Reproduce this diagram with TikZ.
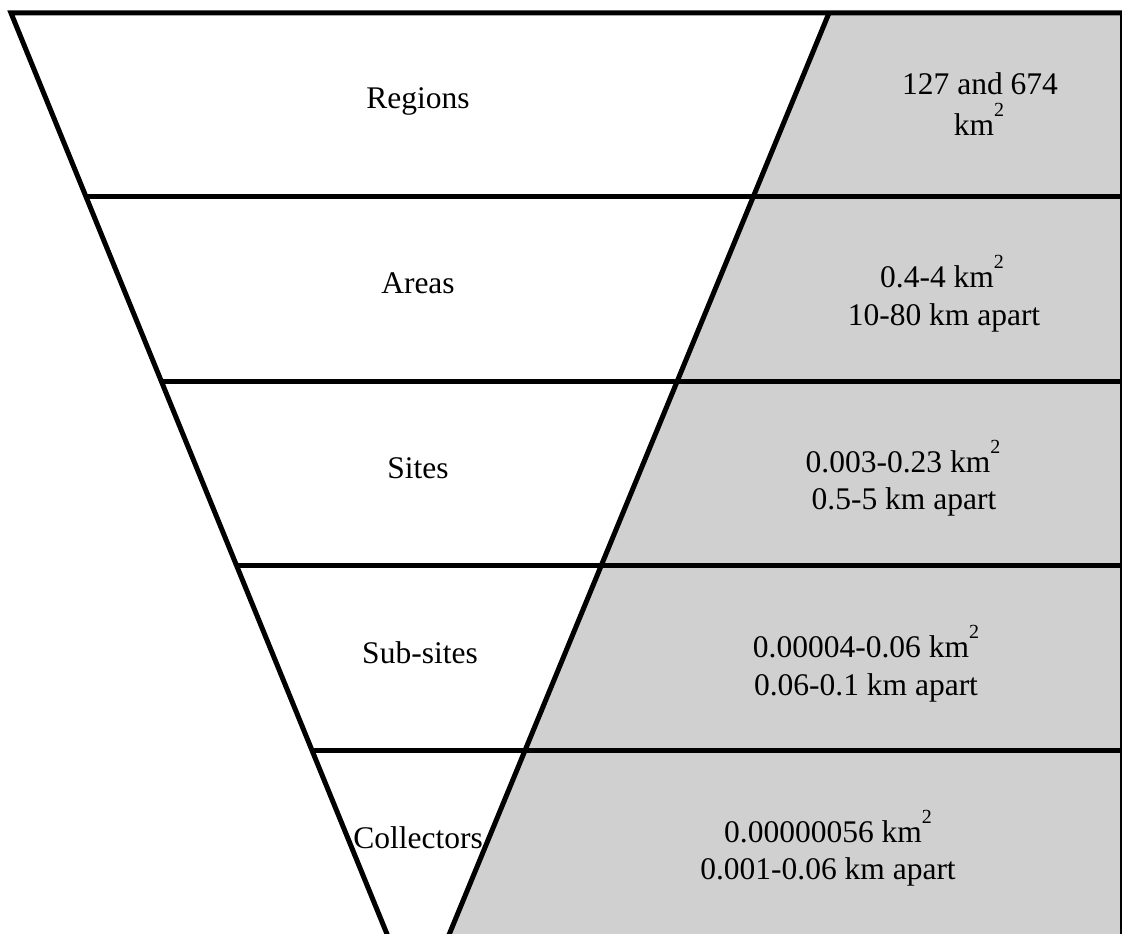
\documentclass[tikz,border=0pt]{standalone}
\usepackage{fontspec}
\setmainfont{Liberation Serif}
\usetikzlibrary{calc}
\definecolor{grayfill}{RGB}{208,208,208}
\newcommand\kmsq{km\raisebox{19pt}{\fontsize{20}{20}\selectfont 2}}
\begin{document}
\begin{tikzpicture}[x=1pt,y=-1pt,
  edge/.style={line width=5pt, line join=miter, line cap=butt},
  lbl/.style={font=\fontsize{31.5}{36}\selectfont, inner sep=0pt, anchor=base},
  ]
\useasboundingbox (0,0) rectangle (1122,934);
\begin{scope}
\clip (0,0) rectangle (1122,934);
\coordinate (TL) at (11,13);
\coordinate (TR) at (829,13);
\coordinate (AP) at (418,1010);
\coordinate (RT) at (1122,13);
\coordinate (RB) at (1122,1010);
\fill[grayfill] (TR) -- (RT) -- (RB) -- (AP) -- cycle;
\coordinate (L1) at ($(TL)!{184/997}!(AP)$);
\coordinate (L2) at ($(TL)!{368.5/997}!(AP)$);
\coordinate (L3) at ($(TL)!{553/997}!(AP)$);
\coordinate (L4) at ($(TL)!{737/997}!(AP)$);
\draw[edge] (AP) -- (TL) -- (RT);
\draw[edge] (TR) -- (AP);
\draw[edge] (RT) -- (RB);
\foreach \c in {L1,L2,L3,L4} \draw[edge] (\c) -- (\c -| RT);
\end{scope}
% left labels
\node[lbl] (regions) at (418,108) {Regions};
\node[lbl] (areas) at (418,293) {Areas};
\node[lbl] (sites) at (418,478) {Sites};
\node[lbl] (subsites) at (420,663) {Sub-sites};
\node[lbl] (collectors) at (418,848) {Collectors};
% right labels
\node[lbl] (r1a) at (980,95) {127 and 674};
\node[lbl] (r1b) at (979,135) {\kmsq};
\node[lbl] (r2a) at (942,287) {0.4-4 \kmsq};
\node[lbl] (r2b) at (944,325) {10-80 km apart};
\node[lbl] (r3a) at (903,472) {0.003-0.23 \kmsq};
\node[lbl] (r3b) at (904,509) {0.5-5 km apart};
\node[lbl] (r4a) at (866,657) {0.00004-0.06 \kmsq};
\node[lbl] (r4b) at (866,695) {0.06-0.1 km apart};
\node[lbl] (r5a) at (828,842) {0.00000056 \kmsq};
\node[lbl] (r5b) at (828,879) {0.001-0.06 km apart};
\end{tikzpicture}
\end{document}
